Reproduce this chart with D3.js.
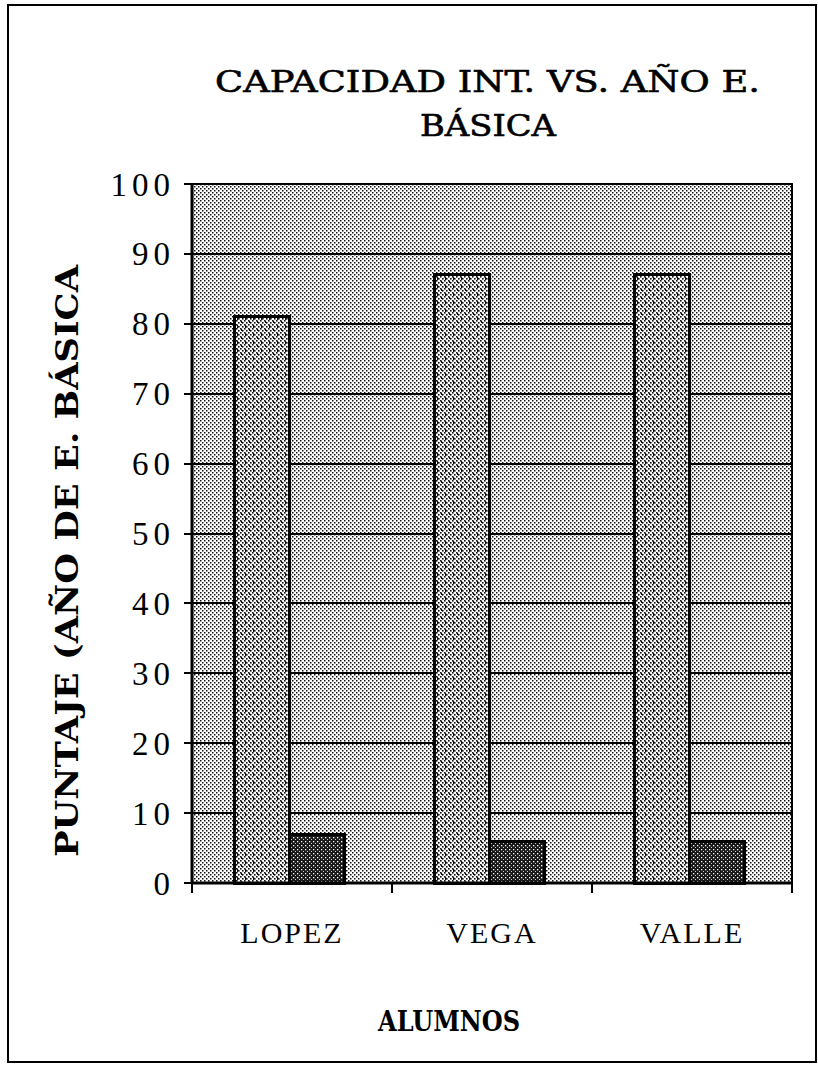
<!DOCTYPE html>
<html>
<head>
<meta charset="utf-8">
<script src="https://cdn.jsdelivr.net/npm/d3@7"></script>
<style>
  body { margin: 0; background: #fff; }
  text { fill: #000; }
  .tick-label { font-family: "Liberation Serif", serif; font-size: 33px; letter-spacing: 5px; }
  .cat-label { font-family: "Liberation Serif", serif; font-size: 30px; letter-spacing: 2px; }
  .title { font-family: "DejaVu Serif", serif; font-size: 29px; stroke: #000; stroke-width: 0.6px; }
  .axis-title { font-family: "DejaVu Serif", serif; font-size: 31px; font-weight: bold; }
</style>
</head>
<body>
<div id="chart"></div>
<script>
// 1. Data

const categories = ["LOPEZ", "VEGA", "VALLE"]
const seriesNames = ["Capacidad int.", "Año E. Básica"]
const capacidadValues = [81, 87, 87]
const anoValues = [7, 6, 6]
const yTicks = [0, 10, 20, 30, 40, 50, 60, 70, 80, 90, 100]
const titleLines = ["CAPACIDAD INT. VS. AÑO E.", "BÁSICA"]
const yTitle = "PUNTAJE (AÑO DE E. BÁSICA"
const xTitle = "ALUMNOS"

const rows = categories.map((c, i) => ({
  name: c,
  values: [capacidadValues[i], anoValues[i]],
}))

// 2. Dimensions

const dimensions = {
  width: 818,
  height: 1066,
  margin: { top: 184, right: 26, bottom: 183, left: 192 },
}
dimensions.boundedWidth = dimensions.width - dimensions.margin.left - dimensions.margin.right
dimensions.boundedHeight = dimensions.height - dimensions.margin.top - dimensions.margin.bottom

// 3. Canvas

const svg = d3.select("#chart")
  .append("svg")
    .attr("width", dimensions.width)
    .attr("height", dimensions.height)

const defs = svg.append("defs")

// stipple background
const bgPat = defs.append("pattern")
    .attr("id", "bg-dots")
    .attr("patternUnits", "userSpaceOnUse")
    .attr("width", 4).attr("height", 4)
bgPat.append("rect").attr("width", 4).attr("height", 4).attr("fill", "#fff")
bgPat.append("rect").attr("x", 0).attr("y", 0).attr("width", 1.5).attr("height", 1.5).attr("fill", "#111")
bgPat.append("rect").attr("x", 2).attr("y", 2).attr("width", 1.5).attr("height", 1.5).attr("fill", "#111")

// tall bar pattern: dots plus little vertical dashes
const tallPat = defs.append("pattern")
    .attr("id", "tall-dots")
    .attr("patternUnits", "userSpaceOnUse")
    .attr("width", 8).attr("height", 8)
tallPat.append("rect").attr("width", 8).attr("height", 8).attr("fill", "#fff")
;[[0, 0], [2, 2], [4, 0], [6, 2], [0, 4], [2, 6], [4, 4], [6, 6]].forEach(([x, y]) => {
  tallPat.append("rect").attr("x", x).attr("y", y).attr("width", 1.6).attr("height", 1.6).attr("fill", "#111")
})
tallPat.append("rect").attr("x", 5).attr("y", 5).attr("width", 1.2).attr("height", 3).attr("fill", "#111")
tallPat.append("rect").attr("x", 1).attr("y", 1).attr("width", 1.2).attr("height", 2).attr("fill", "#111")

// short bar pattern: dark hatch
const darkPat = defs.append("pattern")
    .attr("id", "dark-hatch")
    .attr("patternUnits", "userSpaceOnUse")
    .attr("width", 4).attr("height", 4)
darkPat.append("rect").attr("width", 4).attr("height", 4).attr("fill", "#1a1a1a")
darkPat.append("rect").attr("x", 1).attr("y", 1).attr("width", 1.3).attr("height", 1.3).attr("fill", "#fff")
darkPat.append("rect").attr("x", 3).attr("y", 3).attr("width", 1).attr("height", 1).attr("fill", "#ccc")

const bounds = svg.append("g")
    .attr("transform", `translate(${dimensions.margin.left},${dimensions.margin.top})`)

// 4. Scales

const xScale = d3.scaleBand()
  .domain(categories)
  .range([0, dimensions.boundedWidth])
  .paddingInner(0)

const groupScale = d3.scaleBand()
  .domain(seriesNames)
  .range([xScale.bandwidth() * 0.21, xScale.bandwidth() * 0.76])

const yScale = d3.scaleLinear()
  .domain([0, 100])
  .range([dimensions.boundedHeight, 0])

const fills = ["url(#tall-dots)", "url(#dark-hatch)"]

// 5. Plot area, grid and bars

bounds.append("rect")
    .attr("width", dimensions.boundedWidth)
    .attr("height", dimensions.boundedHeight)
    .attr("fill", "url(#bg-dots)")

bounds.selectAll(".grid")
  .data(yTicks)
  .enter().append("line")
    .attr("class", "grid")
    .attr("x1", -8)
    .attr("x2", dimensions.boundedWidth)
    .attr("y1", d => yScale(d))
    .attr("y2", d => yScale(d))
    .attr("stroke", "#000")
    .attr("stroke-width", 2)
    .attr("shape-rendering", "crispEdges")

const groups = bounds.selectAll(".group")
  .data(rows)
  .enter().append("g")
    .attr("class", "group")
    .attr("transform", d => `translate(${xScale(d.name)},0)`)

groups.selectAll("rect")
  .data(d => d.values.map((v, i) => ({ series: seriesNames[i], value: v, i })))
  .enter().append("rect")
    .attr("x", d => groupScale(d.series))
    .attr("width", groupScale.bandwidth())
    .attr("y", d => yScale(d.value))
    .attr("height", d => yScale(0) - yScale(d.value))
    .attr("fill", d => fills[d.i])
    .attr("stroke", "#000")
    .attr("stroke-width", 3)
    .attr("shape-rendering", "crispEdges")

// plot frame
bounds.append("rect")
    .attr("width", dimensions.boundedWidth)
    .attr("height", dimensions.boundedHeight)
    .attr("fill", "none")
    .attr("stroke", "#000")
    .attr("stroke-width", 2)
    .attr("shape-rendering", "crispEdges")

bounds.append("line")
    .attr("x1", 0).attr("x2", 0)
    .attr("y1", 0).attr("y2", dimensions.boundedHeight)
    .attr("stroke", "#000").attr("stroke-width", 3)

bounds.append("line")
    .attr("x1", 0).attr("x2", dimensions.boundedWidth)
    .attr("y1", dimensions.boundedHeight).attr("y2", dimensions.boundedHeight)
    .attr("stroke", "#000").attr("stroke-width", 3)

// 6. Peripherals

// x ticks at band edges
const xEdges = categories.map(c => xScale(c)).concat([dimensions.boundedWidth])
bounds.selectAll(".xtick")
  .data(xEdges)
  .enter().append("line")
    .attr("x1", d => d).attr("x2", d => d)
    .attr("y1", dimensions.boundedHeight)
    .attr("y2", dimensions.boundedHeight + 10)
    .attr("stroke", "#000").attr("stroke-width", 2)

bounds.selectAll(".tick-label")
  .data(yTicks)
  .enter().append("text")
    .attr("class", "tick-label")
    .attr("x", -17)
    .attr("y", d => yScale(d))
    .attr("dy", "0.35em")
    .attr("text-anchor", "end")
    .text(d => d)

bounds.selectAll(".cat-label")
  .data(categories)
  .enter().append("text")
    .attr("class", "cat-label")
    .attr("x", d => xScale(d) + xScale.bandwidth() / 2)
    .attr("y", dimensions.boundedHeight + 60)
    .attr("text-anchor", "middle")
    .text(d => d)

const titleSpans = [[215, 760], [420, 556]]
svg.selectAll(".title")
  .data(titleLines)
  .enter().append("text")
    .attr("class", "title")
    .attr("x", (d, i) => titleSpans[i][0])
    .attr("y", (d, i) => 92 + i * 44)
    .attr("textLength", (d, i) => titleSpans[i][1] - titleSpans[i][0])
    .attr("lengthAdjust", "spacingAndGlyphs")
    .text(d => d)

svg.append("text")
    .attr("class", "axis-title")
    .attr("transform", `translate(78, 857) rotate(-90)`)
    .attr("textLength", 592)
    .attr("lengthAdjust", "spacingAndGlyphs")
    .text(yTitle)

svg.append("text")
    .attr("class", "axis-title")
    .attr("x", 378)
    .attr("y", 1031)
    .attr("textLength", 142)
    .attr("lengthAdjust", "spacingAndGlyphs")
    .style("font-size", "28px")
    .text(xTitle)

// outer page frame
svg.append("rect")
    .attr("x", 8).attr("y", 5)
    .attr("width", 808).attr("height", 1057)
    .attr("fill", "none")
    .attr("stroke", "#000")
    .attr("stroke-width", 2)
    .attr("shape-rendering", "crispEdges")
</script>
</body>
</html>
